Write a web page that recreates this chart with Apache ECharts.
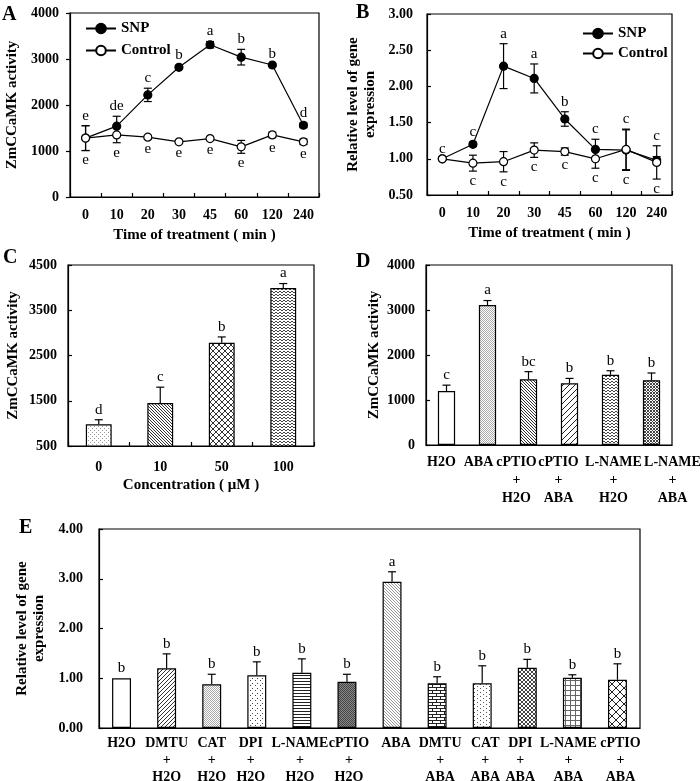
<!DOCTYPE html>
<html>
<head>
<meta charset="utf-8">
<script src="https://cdn.jsdelivr.net/npm/echarts@6/dist/echarts.min.js"></script>
<style>html,body{margin:0;padding:0;background:#fff}#c{width:700px;height:781px}</style>
</head>
<body>
<div id="c"></div>
<script>
// ---------- data ----------
const timeCats = ['0','10','20','30','45','60','120','240'];
const A_snp    = [1280, 1540, 2220, 2820, 3310, 3040, 2870, 1560];
const A_snpErr = [270, 215, 145, 40, 70, 170, 30, 50];
const A_snpLet = ['e','de','c','b','a','b','b','d'];
const A_ctl    = [1280, 1350, 1300, 1200, 1270, 1090, 1350, 1200];
const A_ctlErr = [270, 170, 40, 30, 30, 140, 60, 60];
const A_ctlLet = ['e','e','e','e','e','e','e','e'];

const B_snp    = [1.00, 1.20, 2.28, 2.11, 1.55, 1.13, 1.12, 0.98];
const B_snpErr = [0, 0.03, 0.31, 0.20, 0.10, 0.14, 0.28, 0.05];
const B_snpLet = ['c','c','a','a','b','c','c','c'];
const B_ctl    = [1.00, 0.94, 0.96, 1.12, 1.10, 1.00, 1.13, 0.95];
const B_ctlErr = [0, 0.11, 0.14, 0.10, 0.05, 0.13, 0.28, 0.23];
const B_ctlLet = ['','c','c','c','c','c','c','c'];

const C_cats = ['0','10','50','100'];
const C_vals = [980, 1450, 2780, 3990];
const C_err  = [100, 350, 130, 100];
const C_let  = ['d','c','b','a'];

const D_cats = ['H2O','ABA','cPTIO\n+\nH2O','cPTIO\n+\nABA','L-NAME\n+\nH2O','L-NAME\n+\nABA'];
const D_vals = [1200, 3110, 1460, 1370, 1560, 1440];
const D_err  = [130, 100, 170, 110, 90, 160];
const D_let  = ['c','a','bc','b','b','b'];

const E_cats = ['H2O','DMTU\n+\nH2O','CAT\n+\nH2O','DPI\n+\nH2O','L-NAME\n+\nH2O','cPTIO\n+\nH2O',
                'ABA','DMTU\n+\nABA','CAT\n+\nABA','DPI\n+\nABA','L-NAME\n+\nABA','cPTIO\n+\nABA'];
const E_vals = [1.00, 1.20, 0.88, 1.06, 1.11, 0.93, 2.94, 0.90, 0.90, 1.21, 1.01, 0.97];
const E_err  = [0, 0.29, 0.20, 0.27, 0.28, 0.15, 0.20, 0.13, 0.35, 0.17, 0.06, 0.32];
const E_let  = ['b','b','b','b','b','b','a','b','b','b','b','b'];

// ---------- layout: horizontal nudges of tick labels (px) ----------
const D_shift = [-5, -9, -12, -11, 3, 21];
const E_shift = [0, 0, 0, -6, -2, 2, 4, 3, 3, -7, -4, 3];

// ---------- patterns ----------
function mk(w, h, draw) {
  const c = document.createElement('canvas');
  c.width = w; c.height = h;
  const g = c.getContext('2d');
  g.fillStyle = '#fff'; g.fillRect(0, 0, w, h);
  draw(g);
  return { image: c, repeat: 'repeat' };
}
function px(g, col, pts) { g.fillStyle = col; pts.forEach(p => g.fillRect(p[0], p[1], 1, 1)); }
const P = {
  white: '#ffffff',
  stipple: mk(4, 4, g => px(g, '#999', [[0,0],[2,2]])),
  fineDots: mk(2, 2, g => px(g, '#aaa', [[0,0],[1,1]])),
  backDense: mk(3, 3, g => px(g, '#333', [[0,0],[1,1],[2,2]])),
  backLight: mk(3, 3, g => px(g, '#999', [[0,0],[1,1],[2,2]])),
  crossDiag: mk(6, 6, g => px(g, '#333', [[0,0],[1,1],[2,2],[3,3],[4,4],[5,5],[5,0],[4,1],[3,2],[2,3],[1,4],[0,5]])),
  wave: mk(4, 3, g => px(g, '#444', [[0,0],[1,1],[2,1],[3,0]])),
  fwdSparse: mk(6, 6, g => px(g, '#222', [[5,0],[4,1],[3,2],[2,3],[1,4],[0,5]])),
  fwdDense: mk(4, 4, g => px(g, '#333', [[3,0],[2,1],[1,2],[0,3]])),
  crossDense: mk(3, 3, g => px(g, '#444', [[0,0],[1,1],[2,2],[2,0],[0,2]])),
  sparseDots: mk(5, 5, g => px(g, '#444', [[0,0],[2,3]])),
  hlines: mk(2, 3, g => px(g, '#222', [[0,0],[1,0]])),
  dark: mk(2, 2, g => { px(g, '#444', [[0,0],[1,1]]); px(g, '#888', [[1,0],[0,1]]); }),
  brick: mk(8, 6, g => px(g, '#222', [[0,0],[1,0],[2,0],[3,0],[4,0],[5,0],[6,0],[7,0],[0,3],[1,3],[2,3],[3,3],[4,3],[5,3],[6,3],[7,3],[0,1],[0,2],[4,4],[4,5]])),
  dashDots: mk(6, 4, g => px(g, '#555', [[0,0],[3,2]])),
  crossMed: mk(4, 4, g => px(g, '#444', [[0,0],[1,1],[2,2],[3,3],[3,0],[2,1],[1,2],[0,3]])),
  grid: mk(5, 5, g => px(g, '#666', [[0,0],[1,0],[2,0],[3,0],[4,0],[0,1],[0,2],[0,3],[0,4]])),
  diamond: mk(8, 8, g => px(g, '#222', [[0,0],[1,1],[2,2],[3,3],[4,4],[5,5],[6,6],[7,7],[7,0],[6,1],[5,2],[4,3],[3,4],[2,5],[1,6],[0,7]]))
};
const C_pat = [P.stipple, P.backDense, P.crossDiag, P.wave];
const D_pat = [P.white, P.fineDots, P.backDense, P.fwdSparse, P.wave, P.crossDense];
const E_pat = [P.white, P.fwdDense, P.fineDots, P.sparseDots, P.hlines, P.dark, P.backLight,
               P.brick, P.dashDots, P.crossMed, P.grid, P.diamond];

// ---------- styles ----------
const FONT = "'Liberation Serif','Times New Roman',serif";
const bold = (s) => ({ fontFamily: FONT, fontWeight: 'bold', fontSize: s, color: '#000' });
const axisLine = { show: true, lineStyle: { color: '#000', width: 1.2 } };

function shiftedLabels(shifts, lh, margin) {
  const rich = {};
  shifts.forEach((s, i) => {
    rich['r' + i] = Object.assign(bold(14), { lineHeight: lh,
      padding: s >= 0 ? [0, 0, 0, 2 * s] : [0, -2 * s, 0, 0] });
  });
  return Object.assign(bold(14), { margin: margin, interval: 0, lineHeight: lh, rich: rich,
    formatter: (v, i) => '{r' + i + '|' + v + '}' });
}

function catAxis(gi, cats, opts) {
  return Object.assign({
    type: 'category', gridIndex: gi, data: cats, boundaryGap: true,
    axisLine: axisLine,
    axisTick: { show: true, inside: true, length: 4, lineStyle: { color: '#000', width: 1.2 } },
    axisLabel: Object.assign(bold(14), { margin: 9, interval: 0, lineHeight: 18 }),
    splitLine: { show: false }
  }, opts || {});
}
function valAxis(gi, min, max, iv, dec, opts) {
  return Object.assign({
    type: 'value', gridIndex: gi, min: min, max: max, interval: iv,
    axisLine: axisLine,
    axisTick: { show: true, inside: true, length: 4, lineStyle: { color: '#000', width: 1.2 } },
    axisLabel: Object.assign(bold(14), { margin: 11, formatter: v => v.toFixed(dec) }),
    splitLine: { show: false },
    nameLocation: 'middle', nameRotate: 90,
    nameTextStyle: Object.assign(bold(15), { lineHeight: 17 })
  }, opts || {});
}

function errBars(ax, vals, errs, both, z) {
  return {
    type: 'custom', xAxisIndex: ax, yAxisIndex: ax, z: z || 3, silent: true,
    data: vals.map((v, i) => [i, v, errs[i]]),
    renderItem: (params, api) => {
      const i = api.value(0), v = api.value(1), e = api.value(2);
      if (!e) return null;
      const t = api.coord([i, v + e]);
      const b = api.coord([i, both ? v - e : v]);
      const st = { stroke: '#000', lineWidth: 1.2 };
      const ch = [
        { type: 'line', shape: { x1: t[0], y1: t[1], x2: b[0], y2: b[1] }, style: st },
        { type: 'line', shape: { x1: t[0] - 4, y1: t[1], x2: t[0] + 4, y2: t[1] }, style: st }
      ];
      if (both) ch.push({ type: 'line', shape: { x1: b[0] - 4, y1: b[1], x2: b[0] + 4, y2: b[1] }, style: st });
      return { type: 'group', children: ch };
    }
  };
}
// letters: anchor value + direction (+1 above, -1 below)
function letters(ax, anchors, texts, dir) {
  return {
    type: 'custom', xAxisIndex: ax, yAxisIndex: ax, z: 4, silent: true,
    data: anchors.map((a, i) => [i, a]),
    renderItem: (params, api) => {
      const txt = texts[params.dataIndex];
      if (!txt) return null;
      const p = api.coord([api.value(0), api.value(1)]);
      return {
        type: 'text', x: p[0], y: p[1] - dir * 10,
        style: { text: txt, font: '15px ' + FONT, fill: '#000', align: 'center', verticalAlign: 'middle',
                 textAlign: 'center', textVerticalAlign: 'middle' }
      };
    }
  };
}
const topOf = (a, ae, b, be) => a.map((v, i) => Math.max(v + ae[i], b[i] + be[i]));
const botOf = (a, ae, b, be) => a.map((v, i) => Math.min(v - ae[i], b[i] - be[i]));

function lineSeries(ax, name, vals, filled) {
  return {
    type: 'line', name: name, xAxisIndex: ax, yAxisIndex: ax, data: vals, z: 5,
    symbol: 'circle', symbolSize: 8, showAllSymbols: true,
    lineStyle: { color: '#000', width: 1.2 },
    itemStyle: { color: filled ? '#000' : '#fff', borderColor: '#000', borderWidth: 1.2 },
    emphasis: { disabled: true }, animation: false
  };
}
function barSeries(ax, vals, pats) {
  return {
    type: 'bar', xAxisIndex: ax, yAxisIndex: ax, barWidth: '42%', z: 2,
    data: vals.map((v, i) => ({ value: v, itemStyle: { color: pats[i], borderColor: '#000', borderWidth: 1.2 } })),
    emphasis: { disabled: true }, animation: false
  };
}

const gridBase = { show: true, borderColor: '#000', borderWidth: 1.2, backgroundColor: 'transparent',
                   containLabel: false, outerBoundsMode: 'none' };

const option = {
  animation: false,
  backgroundColor: '#fff',
  textStyle: { fontFamily: FONT },
  grid: [
    Object.assign({ left: 70, top: 13, width: 249, height: 184 }, gridBase),
    Object.assign({ left: 427, top: 14, width: 245, height: 181 }, gridBase),
    Object.assign({ left: 68, top: 265, width: 246, height: 181 }, gridBase),
    Object.assign({ left: 426, top: 265, width: 246, height: 180 }, gridBase),
    Object.assign({ left: 99, top: 529, width: 541, height: 199 }, gridBase)
  ],
  xAxis: [
    catAxis(0, timeCats, { name: 'Time of treatment ( min )', nameLocation: 'middle', nameGap: 31, nameTextStyle: bold(15) }),
    catAxis(1, timeCats, { name: 'Time of treatment ( min )', nameLocation: 'middle', nameGap: 31, nameTextStyle: bold(15) }),
    catAxis(2, C_cats, { name: 'Concentration ( \u03bcM )', nameLocation: 'middle', nameGap: 32, nameTextStyle: bold(15),
      axisLabel: Object.assign(bold(14), { margin: 14, interval: 0 }) }),
    catAxis(3, D_cats, { axisTick: { show: false }, axisLabel: shiftedLabels(D_shift, 18, 8) }),
    catAxis(4, E_cats, { axisTick: { show: false }, axisLabel: shiftedLabels(E_shift, 17, 7) })
  ],
  yAxis: [
    valAxis(0, 0, 4000, 1000, 0, { name: 'ZmCCaMK activity', nameGap: 49,
      axisTick: { show: true, inside: false, length: 4, lineStyle: { color: '#000', width: 1.2 } } }),
    valAxis(1, 0.5, 3, 0.5, 2, { name: 'Relative level of gene\nexpression', nameGap: 48, axisLabel: Object.assign(bold(14), { margin: 14, formatter: v => v.toFixed(2) }) }),
    valAxis(2, 500, 4500, 1000, 0, { name: 'ZmCCaMK activity', nameGap: 46 }),
    valAxis(3, 0, 4000, 1000, 0, { name: 'ZmCCaMK activity', nameGap: 41 }),
    valAxis(4, 0, 4, 1, 2, { name: 'Relative level of gene\nexpression', nameGap: 50, axisLabel: Object.assign(bold(14), { margin: 16, formatter: v => v.toFixed(2) }) })
  ],
  legend: [
    { left: 80, top: 16, orient: 'vertical', itemWidth: 30, itemHeight: 12, itemGap: 7,
      textStyle: bold(15), selectedMode: false, data: ['SNP', 'Control'] },
    { left: 577, top: 21, orient: 'vertical', itemWidth: 30, itemHeight: 12, itemGap: 5,
      textStyle: bold(15), selectedMode: false, data: ['SNP', 'Control'] }
  ],
  graphic: [
    { type: 'text', left: 2, top: 5, style: { text: 'A', font: 'bold 20px ' + FONT, fill: '#000' } },
    { type: 'text', left: 356, top: 3, style: { text: 'B', font: 'bold 20px ' + FONT, fill: '#000' } },
    { type: 'text', left: 3, top: 248, style: { text: 'C', font: 'bold 20px ' + FONT, fill: '#000' } },
    { type: 'text', left: 356, top: 252, style: { text: 'D', font: 'bold 20px ' + FONT, fill: '#000' } },
    { type: 'text', left: 19, top: 518, style: { text: 'E', font: 'bold 20px ' + FONT, fill: '#000' } }
  ],
  series: [
    // A
    errBars(0, A_snp, A_snpErr, true),
    errBars(0, A_ctl, A_ctlErr, true),
    lineSeries(0, 'SNP', A_snp, true),
    lineSeries(0, 'Control', A_ctl, false),
    letters(0, topOf(A_snp, A_snpErr, A_ctl, A_ctlErr), A_snpLet, 1),
    letters(0, botOf(A_snp, A_snpErr, A_ctl, A_ctlErr), A_ctlLet, -1),
    // B
    errBars(1, B_snp, B_snpErr, true),
    errBars(1, B_ctl, B_ctlErr, true),
    lineSeries(1, 'SNP', B_snp, true),
    lineSeries(1, 'Control', B_ctl, false),
    letters(1, topOf(B_snp, B_snpErr, B_ctl, B_ctlErr), B_snpLet, 1),
    letters(1, botOf(B_snp, B_snpErr, B_ctl, B_ctlErr), B_ctlLet, -1),
    // C
    barSeries(2, C_vals, C_pat),
    errBars(2, C_vals, C_err, false, 1),
    letters(2, C_vals.map((v, i) => v + C_err[i]), C_let, 1),
    // D
    barSeries(3, D_vals, D_pat),
    errBars(3, D_vals, D_err, false, 1),
    letters(3, D_vals.map((v, i) => v + D_err[i]), D_let, 1),
    // E
    barSeries(4, E_vals, E_pat),
    errBars(4, E_vals, E_err, false, 1),
    letters(4, E_vals.map((v, i) => v + E_err[i]), E_let, 1)
  ]
};
const chart = echarts.init(document.getElementById('c'), null, { renderer: 'canvas', width: 700, height: 781 });
chart.setOption(option);
</script>
</body>
</html>
